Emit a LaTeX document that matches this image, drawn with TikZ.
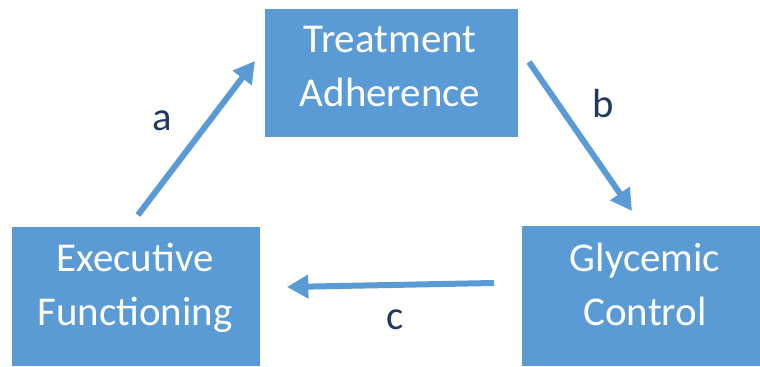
\documentclass[tikz,border=0pt]{standalone}
\usepackage{fontspec}
\setmainfont{Carlito}
\usetikzlibrary{arrows.meta}
\definecolor{boxblue}{HTML}{5B9BD5}
\definecolor{labnavy}{HTML}{1F3A60}
\begin{document}
\begin{tikzpicture}[x=0.75pt,y=-0.75pt,
  box/.style={rectangle, fill=boxblue, draw=none, inner sep=0pt},
  boxtext/.style={text=white, align=center, inner sep=0pt, font=\fontsize{30.7}{40.5}\selectfont},
  conn/.style={draw=boxblue, line width=4.5pt, -{Triangle[length=16pt,width=17pt]}},
  lab/.style={text=labnavy, inner sep=0pt, font=\fontsize{30.5}{35}\selectfont}]
\useasboundingbox[fill=white] (0,0) rectangle (760,367);
% boxes
\node[box, minimum width=189.75pt, minimum height=96pt] (ta) at (391.5,73) {};
\node[box, minimum width=186pt, minimum height=104.25pt] (ef) at (136,296.5) {};
\node[box, minimum width=178.5pt, minimum height=105pt] (gc) at (641,296) {};
% texts
\node[boxtext] (tat) at (390,67) {Treatment\\Adherence};
\node[boxtext] (eft) at (135,288) {Executive\\Functioning};
\node[boxtext] (gct) at (645,284) {Glycemic\\Control};
% connector ends
\coordinate (a1) at (138,215);
\coordinate (a2) at (255,61);
\coordinate (b1) at (529,62);
\coordinate (b2) at (632,211);
\coordinate (c1) at (494,283);
\coordinate (c2) at (287,287);
\draw[conn] (a1) -- (a2);
\draw[conn] (b1) -- (b2);
\draw[conn] (c1) -- (c2);
% labels
\node[lab] (la) at (162,121) {a};
\node[lab] (lb) at (603,104) {b};
\node[lab] (lc) at (395,320) {c};
\end{tikzpicture}
\end{document}
